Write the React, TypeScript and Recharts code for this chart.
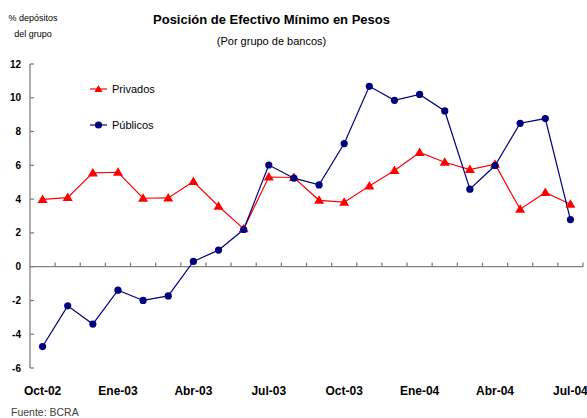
import { LineChart, Line, XAxis, YAxis, ReferenceLine } from "recharts";

const MONTHS = [
  "Oct-02", "Nov-02", "Dic-02", "Ene-03", "Feb-03", "Mar-03", "Abr-03", "May-03",
  "Jun-03", "Jul-03", "Ago-03", "Sep-03", "Oct-03", "Nov-03", "Dic-03", "Ene-04",
  "Feb-04", "Mar-04", "Abr-04", "May-04", "Jun-04", "Jul-04",
];

const PRIVADOS = [
  3.98, 4.09, 5.55, 5.59, 4.05, 4.07, 5.04, 3.58, 2.24, 5.31, 5.28, 3.93, 3.82, 4.78,
  5.69, 6.76, 6.18, 5.75, 6.07, 3.4, 4.39, 3.7,
];

const PUBLICOS = [
  -4.73, -2.32, -3.4, -1.39, -2.0, -1.73, 0.31, 0.98, 2.2, 6.02, 5.24, 4.84, 7.29, 10.68,
  9.85, 10.2, 9.22, 4.59, 5.99, 8.49, 8.77, 2.79,
];

const Y_TICKS = [-6, -4, -2, 0, 2, 4, 6, 8, 10, 12];
const X_LABEL_IDX = [0, 3, 6, 9, 12, 15, 18, 21];

const RED = "#FF0000";
const NAVY = "#000080";
const AXIS = "#808080";
const FONT = "'Liberation Sans', Arial, sans-serif";

const data = MONTHS.map((m, i) => ({
  i,
  mes: m,
  privados: PRIVADOS[i],
  publicos: PUBLICOS[i],
}));

// boundaries between months, where the small ticks on the zero line go
const boundaries = MONTHS.map((_, i) => i + 0.5);

function TriangleDot(props: any) {
  const { cx, cy, index } = props;
  if (cx == null || cy == null) return null;
  return (
    <polygon
      key={`tri-${index}`}
      points={`${cx},${cy - 5} ${cx + 5},${cy + 3.5} ${cx - 5},${cy + 3.5}`}
      fill={RED}
    />
  );
}

function LegendItem({ label, color, marker }: { label: string; color: string; marker: "tri" | "dot" }) {
  return (
    <div style={{ display: "flex", alignItems: "center", height: 14 }}>
      <svg width={18} height={12} style={{ marginRight: 4 }}>
        <line x1={0} y1={6} x2={17} y2={6} stroke={color} strokeWidth={1.2} />
        {marker === "tri" ? (
          <polygon points="8.5,2 12.5,9 4.5,9" fill={color} />
        ) : (
          <circle cx={8.5} cy={6} r={3.6} fill={color} />
        )}
      </svg>
      <span style={{ fontSize: 11, color: "#000" }}>{label}</span>
    </div>
  );
}

export default function App() {
  return (
    <div
      style={{
        position: "absolute",
        left: 0,
        top: 0,
        width: 587,
        height: 418,
        background: "#fff",
        fontFamily: FONT,
        overflow: "hidden",
      }}
    >
      <div style={{ position: "absolute", left: 0, width: 66, top: 13, fontSize: 9, lineHeight: "10px", textAlign: "center", color: "#000" }}>
        % depósitos
      </div>
      <div style={{ position: "absolute", left: 0, width: 66, top: 29, fontSize: 9, lineHeight: "10px", textAlign: "center", color: "#000" }}>
        del grupo
      </div>
      <div style={{ position: "absolute", left: 0, width: 543, top: 12, fontSize: 13, fontWeight: "bold", lineHeight: "16px", textAlign: "center", color: "#000" }}>
        Posición de Efectivo Mínimo en Pesos
      </div>
      <div style={{ position: "absolute", left: 0, width: 543, top: 34, fontSize: 11, lineHeight: "14px", textAlign: "center", color: "#000" }}>
        (Por grupo de bancos)
      </div>

      <LineChart
        width={587}
        height={418}
        data={data}
        margin={{ top: 64, right: 4, left: 0, bottom: 20 }}
      >
        <XAxis
          type="number"
          dataKey="i"
          domain={[-0.5, 21.5]}
          ticks={X_LABEL_IDX}
          interval={0}
          tickFormatter={(v) => MONTHS[v]}
          axisLine={false}
          tickLine={false}
          tickSize={0}
          tickMargin={18}
          height={30}
          tick={{ fill: "#000", fontSize: 12, fontWeight: "bold", fontFamily: FONT }}
        />
        <YAxis
          domain={[-6, 12]}
          ticks={Y_TICKS}
          interval={0}
          width={30}
          tickSize={-4}
          tickMargin={13}
          axisLine={{ stroke: AXIS, strokeWidth: 1.3 }}
          tickLine={{ stroke: AXIS, strokeWidth: 1.3 }}
          tick={{ fill: "#000", fontSize: 10, fontWeight: "bold", fontFamily: FONT }}
        />
        <ReferenceLine y={0} stroke={AXIS} strokeWidth={1.3} />
        {boundaries.map((b) => (
          <ReferenceLine
            key={b}
            segment={[
              { x: b, y: 0 },
              { x: b, y: 0.24 },
            ]}
            stroke={AXIS}
            strokeWidth={1.3}
          />
        ))}
        <Line
          dataKey="privados"
          stroke={RED}
          strokeWidth={1.2}
          dot={TriangleDot}
          activeDot={false}
          isAnimationActive={false}
        />
        <Line
          dataKey="publicos"
          stroke={NAVY}
          strokeWidth={1.2}
          dot={{ r: 3.6, fill: NAVY, stroke: NAVY, strokeWidth: 0 }}
          activeDot={false}
          isAnimationActive={false}
        />
      </LineChart>

      <div style={{ position: "absolute", left: 90, top: 82 }}>
        <LegendItem label="Privados" color={RED} marker="tri" />
      </div>
      <div style={{ position: "absolute", left: 90, top: 118 }}>
        <LegendItem label="Públicos" color={NAVY} marker="dot" />
      </div>

      <div style={{ position: "absolute", left: 11, top: 406, fontSize: 10.5, lineHeight: "13px", color: "#404040" }}>
        Fuente: BCRA
      </div>
    </div>
  );
}
